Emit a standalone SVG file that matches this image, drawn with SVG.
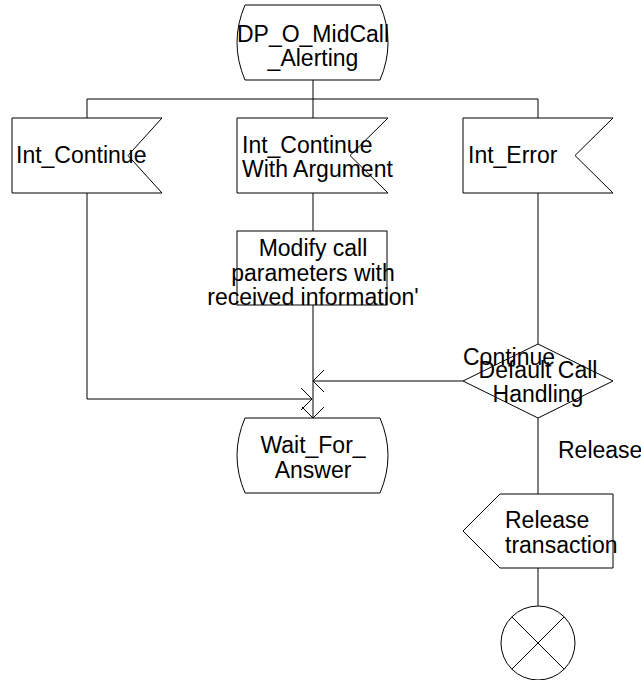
<svg xmlns="http://www.w3.org/2000/svg" width="641" height="680" viewBox="0 0 641 680">
<style>
.s{fill:#fff;stroke:#000;stroke-width:1}
.c{fill:none;stroke:#000;stroke-width:1}
text{font-family:"Liberation Sans",Arial,sans-serif;font-size:23px;fill:#000}
.m{text-anchor:middle}
</style>
<defs>
<marker id="a" markerUnits="userSpaceOnUse" markerWidth="30" markerHeight="30" viewBox="-15 -15 30 30" refX="0" refY="0" orient="auto">
<path d="M-11,-11 L0,0 L-11,11" fill="none" stroke="#000" stroke-width="1"/>
</marker>
</defs>
<rect width="641" height="680" fill="#fff"/>
<g id="connectors">
<path class="c" d="M313,80 V99"/>
<path class="c" d="M87,99 H538"/>
<path class="c" d="M87,99 V118 M313,99 V118 M538,99 V118"/>
<path class="c" d="M87,193 V399 H312" marker-end="url(#a)"/>
<path class="c" d="M313,193 V231"/>
<path class="c" d="M313,305 V418" marker-end="url(#a)"/>
<path class="c" d="M538,193 V344"/>
<path class="c" d="M463,381 H313" marker-end="url(#a)"/>
<path class="c" d="M538,418 V494"/>
<path class="c" d="M538,568 V606"/>
</g>
<g id="start">
<path class="s" d="M245,5 H380 Q396,42.5 380,80 H245 Q229,42.5 245,5 Z"/>
<text class="m" x="313" y="42">DP_O_MidCall</text>
<text class="m" x="313" y="66">_Alerting</text>
</g>
<g id="int_continue">
<path class="s" d="M12,118 H162 L128,155.5 L162,193 H12 Z"/>
<text x="16" y="163">Int_Continue</text>
</g>
<g id="int_continue_arg">
<path class="s" d="M237,118 H388 L350,155.5 L388,193 H237 Z"/>
<text x="242" y="153">Int_Continue</text>
<text x="242" y="177">With Argument</text>
</g>
<g id="int_error">
<path class="s" d="M463,118 H613 L575,155.5 L613,193 H463 Z"/>
<text x="468" y="163">Int_Error</text>
</g>
<g id="modify">
<rect class="s" x="237" y="231" width="150" height="74"/>
<text class="m" x="313" y="256">Modify call</text>
<text class="m" x="313" y="281">parameters with</text>
<text class="m" x="313" y="305">received information'</text>
</g>
<g id="wait">
<path class="s" d="M245,418 H380 Q396,455.5 380,493 H245 Q229,455.5 245,418 Z"/>
<text class="m" x="313" y="453">Wait_For_</text>
<text class="m" x="313" y="478">Answer</text>
</g>
<g id="decision">
<path class="s" d="M538,344 L613,381 L538,418 L463,381 Z"/>
<text x="463" y="365">Continue</text>
<text class="m" x="538" y="378">Default Call</text>
<text class="m" x="538" y="402">Handling</text>
<text x="558" y="458">Release</text>
</g>
<g id="release">
<path class="s" d="M500,494 H613 V568 H500 L463,531 Z"/>
<text x="505" y="528">Release</text>
<text x="505" y="553">transaction</text>
</g>
<g id="stop">
<circle class="s" cx="538" cy="643" r="37"/>
<path class="c" d="M511.8,616.8 L564.2,669.2 M564.2,616.8 L511.8,669.2"/>
</g>
</svg>
